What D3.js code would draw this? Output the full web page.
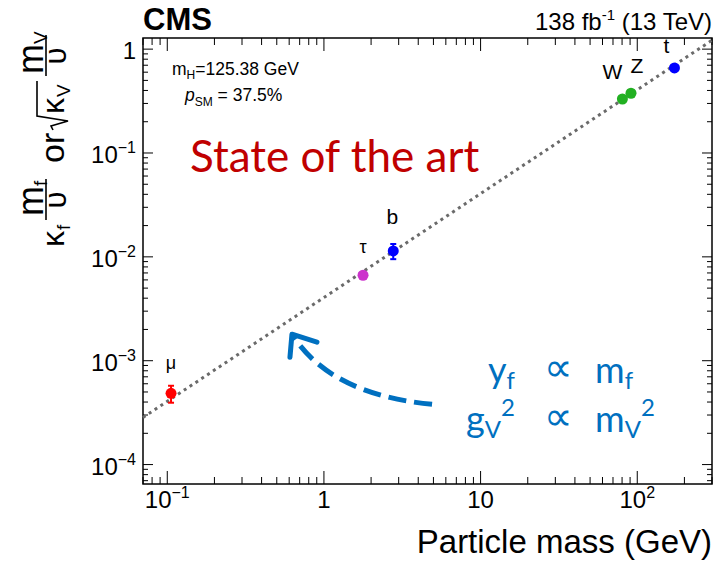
<!DOCTYPE html>
<html lang="en">
<head>
<meta charset="utf-8" />
<title>Higgs couplings vs particle mass</title>
<script src="https://cdnjs.cloudflare.com/ajax/libs/d3/7.8.5/d3.min.js"></script>
<style>
  body { margin: 0; background: #fff; }
  text { font-family: "Liberation Sans", Arial, sans-serif; fill: #000; }
  .ppt { font-family: Lato, "Open Sans", sans-serif; }
</style>
</head>
<body>
<div id="chart"></div>
<script>
// particles and measured reduced couplings
var particles = ["μ", "τ", "b", "W", "Z", "t"];
var masses    = [0.1057, 1.777, 2.77, 80.4, 91.19, 172.8];
var values    = [4.85e-4, 6.65e-3, 0.0114, 0.331, 0.376, 0.659];
var errLow    = [3.94e-4, 6.35e-3, 0.0095, 0.322, 0.367, 0.640];
var errHigh   = [5.74e-4, 6.95e-3, 0.0133, 0.340, 0.385, 0.678];
var colors    = ["#ff0000", "#cc33cc", "#0000ff", "#22b022", "#22b022", "#0000ff"];
var vev = 246.22;  // GeV

// axis ticks
var xTickValues = [0.1, 1, 10, 100];
var xTickLabels = [["10", "−1"], ["1", ""], ["10", ""], ["10", "2"]];
var yTickValues = [1, 0.1, 0.01, 0.001, 0.0001];
var yTickLabels = [["1", ""], ["10", "−1"], ["10", "−2"], ["10", "−3"], ["10", "−4"]];

// label nudges (pixels) for each particle name
var labelDx = [0, 0, -1, -10, 6, -8];
var labelDy = [-24, -22, -27, -20, -20, -15];

var W = 726, H = 561;
var frame = {left: 143, right: 712, top: 38, bottom: 484};

var svg = d3.select("#chart").append("svg")
    .attr("width", W).attr("height", H);

var x = d3.scaleLog().domain([0.07, 300]).range([frame.left, frame.right]);
var y = d3.scaleLog().domain([6.5e-5, 1.28]).range([frame.bottom, frame.top]);

// minor + major ticks
function logTicks(scale) {
  var d = scale.domain(), out = [];
  for (var e = Math.floor(Math.log10(d[0])); e <= Math.ceil(Math.log10(d[1])); e++) {
    for (var k = 1; k <= 9; k++) {
      var v = k * Math.pow(10, e);
      if (v >= d[0] && v <= d[1]) out.push({v: v, major: k === 1});
    }
  }
  return out;
}

var ticks = svg.append("g").attr("stroke", "#000").attr("stroke-width", 1);
logTicks(x).forEach(function(t) {
  var len = t.major ? 13 : 7, px = x(t.v);
  ticks.append("line").attr("x1", px).attr("x2", px)
    .attr("y1", frame.bottom).attr("y2", frame.bottom - len);
  ticks.append("line").attr("x1", px).attr("x2", px)
    .attr("y1", frame.top).attr("y2", frame.top + len);
});
logTicks(y).forEach(function(t) {
  var len = t.major ? 10 : 5, py = y(t.v);
  ticks.append("line").attr("x1", frame.left).attr("x2", frame.left + len)
    .attr("y1", py).attr("y2", py);
  ticks.append("line").attr("x1", frame.right).attr("x2", frame.right - len)
    .attr("y1", py).attr("y2", py);
});

// frame
svg.append("rect")
  .attr("x", frame.left).attr("y", frame.top)
  .attr("width", frame.right - frame.left).attr("height", frame.bottom - frame.top)
  .attr("fill", "none").attr("stroke", "#000").attr("stroke-width", 1.5);

// tick labels
xTickValues.forEach(function(v, i) {
  var t = svg.append("text").attr("x", x(v)).attr("y", 508)
    .attr("text-anchor", "middle").attr("font-size", 24);
  t.append("tspan").text(xTickLabels[i][0]);
  if (xTickLabels[i][1]) t.append("tspan").attr("dy", -10).attr("font-size", 16).text(xTickLabels[i][1]);
});
yTickValues.forEach(function(v, i) {
  var t = svg.append("text").attr("x", 136).attr("y", y(v) + 10)
    .attr("text-anchor", "end").attr("font-size", 24);
  t.append("tspan").text(yTickLabels[i][0]);
  if (yTickLabels[i][1]) t.append("tspan").attr("dy", -10).attr("font-size", 16).text(yTickLabels[i][1]);
});

// x title
svg.append("text").attr("x", frame.right).attr("y", 553)
  .attr("text-anchor", "end").attr("font-size", 33).text("Particle mass (GeV)");

// y title, built from pieces in a rotated group
var yt = svg.append("g").attr("transform", "translate(64,247) rotate(-90)");
function piece(g, xx, yy, size, str, anchor) {
  var t = g.append("text").attr("x", xx).attr("y", yy).attr("font-size", size).text(str);
  if (anchor) t.attr("text-anchor", anchor);
  return t;
}
function bar(g, x1, x2) {
  g.append("line").attr("x1", x1).attr("x2", x2).attr("y1", -18).attr("y2", -18)
    .attr("stroke", "#000").attr("stroke-width", 1.6);
}
piece(yt, 0, 0, 32, "κ");
piece(yt, 17, 6, 19, "f");
bar(yt, 27, 68);
piece(yt, 31, -21, 36, "m");
piece(yt, 61, -17, 19, "f");
piece(yt, 47, 2, 31, "υ", "middle");
piece(yt, 84, 0, 34, "or");
// sqrt sign
yt.append("path")
  .attr("d", "M117,-11 L121,-13 L126,4 L131,-27 L166,-27")
  .attr("fill", "none").attr("stroke", "#000").attr("stroke-width", 1.6);
piece(yt, 133, 0, 32, "κ");
piece(yt, 150, 6, 19, "V");
bar(yt, 171, 212);
piece(yt, 173, -21, 36, "m");
piece(yt, 203, -17, 19, "V");
piece(yt, 191, 2, 31, "υ", "middle");

// header
svg.append("text").attr("x", frame.left).attr("y", 30)
  .attr("font-size", 31).attr("font-weight", "bold").text("CMS");
var lumi = svg.append("text").attr("x", frame.right).attr("y", 30)
  .attr("text-anchor", "end").attr("font-size", 24);
lumi.append("tspan").text("138 fb");
lumi.append("tspan").attr("dy", -10).attr("font-size", 15).text("-1");
lumi.append("tspan").attr("dy", 10).text(" (13 TeV)");

// legend text
var mh = svg.append("text").attr("x", 172).attr("y", 75).attr("font-size", 17.5);
mh.append("tspan").text("m");
mh.append("tspan").attr("dy", 4).attr("font-size", 12).text("H");
mh.append("tspan").attr("dy", -4).text("=125.38 GeV");
var psm = svg.append("text").attr("x", 185).attr("y", 101).attr("font-size", 17.5);
psm.append("tspan").attr("font-style", "italic").text("p");
psm.append("tspan").attr("dy", 5).attr("font-size", 12).text("SM");
psm.append("tspan").attr("dy", -5).text(" = 37.5%");

// SM expectation line
var line = d3.line().x(function(d) { return x(d); }).y(function(d) { return y(d / vev); });
svg.append("path").datum(x.domain())
  .attr("d", line)
  .attr("fill", "none").attr("stroke", "#6a6a6a").attr("stroke-width", 3)
  .attr("stroke-dasharray", "3,4");

// error bars and markers
var pts = svg.append("g");
particles.forEach(function(p, i) {
  var px = x(masses[i]);
  pts.append("line").attr("x1", px).attr("x2", px)
    .attr("y1", y(errLow[i])).attr("y2", y(errHigh[i]))
    .attr("stroke", colors[i]).attr("stroke-width", 2);
  [errLow[i], errHigh[i]].forEach(function(e) {
    pts.append("line").attr("x1", px - 3).attr("x2", px + 3)
      .attr("y1", y(e)).attr("y2", y(e))
      .attr("stroke", colors[i]).attr("stroke-width", 2);
  });
  pts.append("circle").attr("cx", px).attr("cy", y(values[i])).attr("r", 5.5)
    .attr("fill", colors[i]);
  pts.append("text").attr("x", px + labelDx[i]).attr("y", y(values[i]) + labelDy[i])
    .attr("text-anchor", "middle").attr("font-size", p === "μ" || p === "τ" ? 18 : 21).text(p);
});

// "State of the art" annotation
svg.append("text").attr("class", "ppt").attr("x", 190).attr("y", 172)
  .attr("font-size", 44).style("fill", "#c00000").text("State of the art");

// dashed arrow, anchored in data coordinates
var arrowTail = [4.9, 3.8e-4], arrowCtrl = [1.09, 4.73e-4], arrowTip = [0.625, 1.8e-3];
var blue = "#0070c0";
svg.append("path")
  .attr("d", "M" + x(arrowTail[0]) + "," + y(arrowTail[1]) +
             " Q" + x(arrowCtrl[0]) + "," + y(arrowCtrl[1]) +
             " " + x(arrowTip[0]) + "," + y(arrowTip[1]))
  .attr("fill", "none").attr("stroke", blue).attr("stroke-width", 5)
  .attr("stroke-dasharray", "18,8");
var tx = x(arrowTip[0]), ty = y(arrowTip[1]);
svg.append("path")
  .attr("d", "M" + (tx - 2) + "," + (ty + 23) + " L" + tx + "," + ty + " L" + (tx + 25) + "," + (ty + 8))
  .attr("fill", "none").attr("stroke", blue).attr("stroke-width", 5)
  .attr("stroke-linejoin", "round").attr("stroke-linecap", "round");

// proportionality text
function propRow(yy, lhs, lhsSub, lhsSup, rhsSub, rhsSup) {
  var l = svg.append("text").attr("class", "ppt").attr("x", 515).attr("y", yy)
    .attr("text-anchor", "end").attr("font-size", 36).style("fill", blue);
  l.append("tspan").text(lhs);
  l.append("tspan").attr("dy", 6).attr("font-size", 24).text(lhsSub);
  if (lhsSup) l.append("tspan").attr("dy", -22).attr("font-size", 24).text(lhsSup);
  svg.append("text").attr("class", "ppt").attr("x", 558).attr("y", yy - 2)
    .attr("text-anchor", "middle").attr("font-size", 40).style("fill", blue).text("∝");
  var r = svg.append("text").attr("class", "ppt").attr("x", 595).attr("y", yy)
    .attr("font-size", 36).style("fill", blue);
  r.append("tspan").text("m");
  r.append("tspan").attr("dy", 6).attr("font-size", 24).text(rhsSub);
  if (rhsSup) r.append("tspan").attr("dy", -22).attr("font-size", 24).text(rhsSup);
}
propRow(383, "y", "f", "", "f", "");
propRow(432, "g", "V", "2", "V", "2");
</script>
</body>
</html>
